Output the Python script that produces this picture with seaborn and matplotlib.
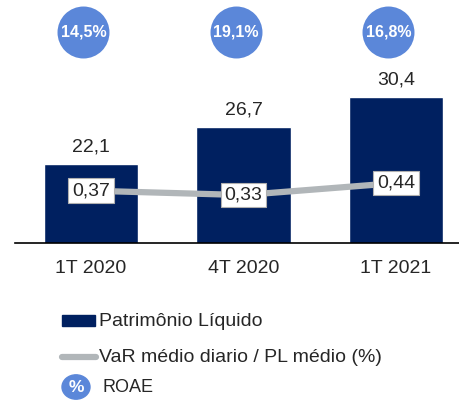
import matplotlib
matplotlib.use("Agg")
import matplotlib.pyplot as plt
import seaborn as sns
import pandas as pd
from matplotlib.patches import Rectangle, Circle
from matplotlib.lines import Line2D

periods = ["1T 2020", "4T 2020", "1T 2021"]
patrimonio = [22.1, 26.7, 30.4]
var_pl = [0.37, 0.33, 0.44]
roae = ["14,5%", "19,1%", "16,8%"]

navy = "#002060"
gray = "#B1B6B9"
blue = "#5B87D9"

sns.set_style("white")
plt.rcParams["font.family"] = ["Liberation Sans", "DejaVu Sans"]

df = pd.DataFrame({"periodo": periods, "pl": patrimonio, "var": var_pl})

fig = plt.figure(figsize=(4.6, 4.0), dpi=100)
ax = fig.add_axes([15 / 460, 1 - 243 / 400, 445 / 460, 243 / 400])

sns.barplot(data=df, x="periodo", y="pl", color=navy, width=0.62,
            saturation=1, ax=ax)
ax.set_xlim(-0.498, 2.42)
ax.set_ylim(12.3, 42.4)
ax.set_xlabel("")
ax.set_ylabel("")
ax.set_yticks([])
for s in ["top", "right", "left"]:
    ax.spines[s].set_visible(False)
ax.spines["bottom"].set_color("black")
ax.spines["bottom"].set_linewidth(1.2)
ax.tick_params(axis="x", length=0, pad=12, labelsize=14)

for i, v in enumerate(patrimonio):
    ax.annotate(f"{v:.1f}".replace(".", ","), (i, v), xytext=(0, 6),
                textcoords="offset points", ha="center", va="bottom",
                fontsize=14)

# ROAE circles
ax.scatter([i - 0.05 for i in range(3)], [38.4] * 3, s=1400, color=blue,
           clip_on=False, zorder=3, linewidths=0)
for i, r in enumerate(roae):
    ax.text(i - 0.05, 38.4, r, ha="center", va="center", color="white",
            fontsize=11.5, fontweight="bold", zorder=4)

# VaR line on secondary axis
ax2 = ax.twinx()
sns.lineplot(x=[0, 1, 2], y=var_pl, color=gray, linewidth=4.5, ax=ax2)
ax2.set_ylim(-0.11, 2.12)
ax2.set_yticks([])
for s in ["top", "right", "left", "bottom"]:
    ax2.spines[s].set_visible(False)
for i, v in enumerate(var_pl):
    ax2.text(i, v, f"{v:.2f}".replace(".", ","), ha="center", va="center",
             fontsize=14, zorder=5,
             bbox=dict(boxstyle="square,pad=0.2", fc="white", ec="#B0B0B0",
                       lw=0.8))

# legend
fig.patches.append(Rectangle((62 / 460, 1 - 326 / 400), 33 / 460, 11 / 400,
                             transform=fig.transFigure, color=navy))
fig.text(99 / 460, 1 - 321 / 400, "Patrimônio Líquido", va="center",
         fontsize=14)
fig.lines.append(Line2D([62 / 460, 96 / 460], [1 - 357 / 400, 1 - 357 / 400],
                        transform=fig.transFigure, color=gray, lw=4.5,
                        solid_capstyle="round"))
fig.text(99 / 460, 1 - 357 / 400, "VaR médio diario / PL médio (%)",
         va="center", fontsize=14)
fig.patches.append(Circle((76 / 460, 1 - 387 / 400), 14 / 460,
                          transform=fig.transFigure, color=blue))
fig.text(76 / 460, 1 - 388 / 400, "%", ha="center", va="center",
         color="white", fontsize=12.5, fontweight="bold")
fig.text(103 / 460, 1 - 388 / 400, "ROAE", va="center", fontsize=13)

fig.savefig("out.png", dpi=100)
